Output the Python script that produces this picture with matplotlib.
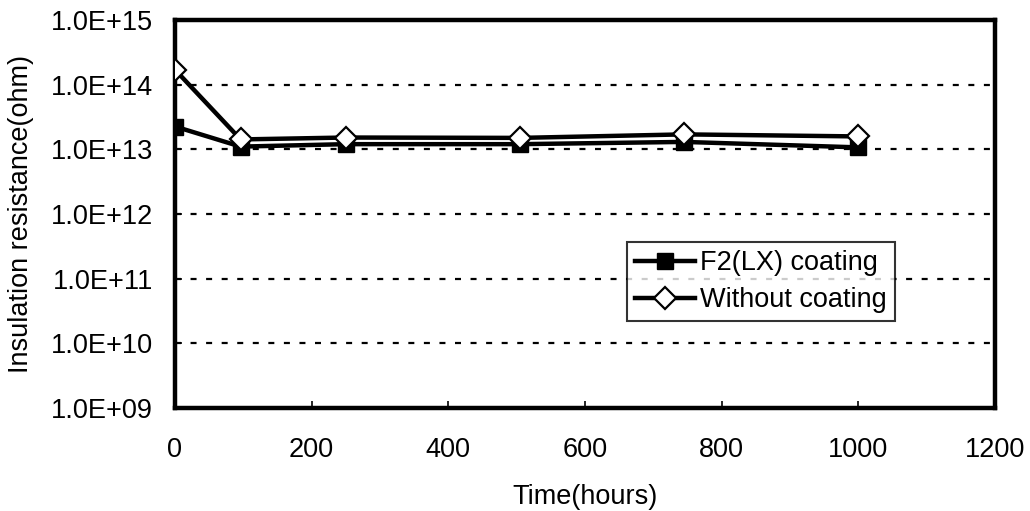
import numpy as np
import matplotlib.pyplot as plt
from matplotlib.ticker import FuncFormatter, FixedLocator, NullLocator

plt.rcParams['font.family'] = ['Liberation Sans', 'DejaVu Sans']

hours = [0, 96, 250, 505, 745, 1000]
f2_coating = [2.25e13, 1.1e13, 1.2e13, 1.2e13, 1.3e13, 1.07e13]
no_coating = [1.7e14, 1.42e13, 1.52e13, 1.5e13, 1.7e13, 1.58e13]

fs = 19.5

fig = plt.figure(figsize=(10.3, 5.11), dpi=100)
ax = fig.add_axes([0.1699, 0.2016, 0.7961, 0.7594])

ax.plot(hours, f2_coating, color='black', lw=3.2, marker='s', ms=11,
        mfc='black', mec='black', label='F2(LX) coating', zorder=3)
ax.plot(hours, no_coating, color='black', lw=3.2, marker='D', ms=11.5,
        mfc='white', mec='black', mew=1.6, label='Without coating', zorder=4)

ax.set_yscale('log')
ax.set_ylim(1e9, 1e15)
ax.set_xlim(0, 1200)
ax.set_xticks(np.arange(0, 1201, 200))
ax.yaxis.set_major_locator(FixedLocator([10.0**k for k in range(9, 16)]))
ax.yaxis.set_minor_locator(NullLocator())
ax.yaxis.set_major_formatter(FuncFormatter(lambda v, p: '1.0E+%02d' % round(np.log10(v))))

# dotted decade lines
for k in range(10, 15):
    ax.axhline(10.0**k, color='black', lw=1.6, ls=(0, (2.7, 4.3)), zorder=1)

for s in ax.spines.values():
    s.set_linewidth(3.2)
ax.tick_params(direction='in', length=5, width=1.2, labelsize=fs)
ax.tick_params(axis='x', pad=21)
ax.tick_params(axis='y', pad=16)

ax.set_xlabel('Time(hours)', fontsize=fs, labelpad=15)
ax.set_ylabel('Insulation resistance(ohm)', fontsize=fs, labelpad=12)

leg = ax.legend(loc='center', bbox_to_anchor=(0.7146, 0.325), fontsize=fs,
                frameon=True, fancybox=False, handlelength=2.2,
                handletextpad=0.2, borderpad=0.3, labelspacing=0.4,
                borderaxespad=0)
leg.get_frame().set_edgecolor('black')
leg.get_frame().set_linewidth(1.5)

fig.savefig('out.png', dpi=100)
